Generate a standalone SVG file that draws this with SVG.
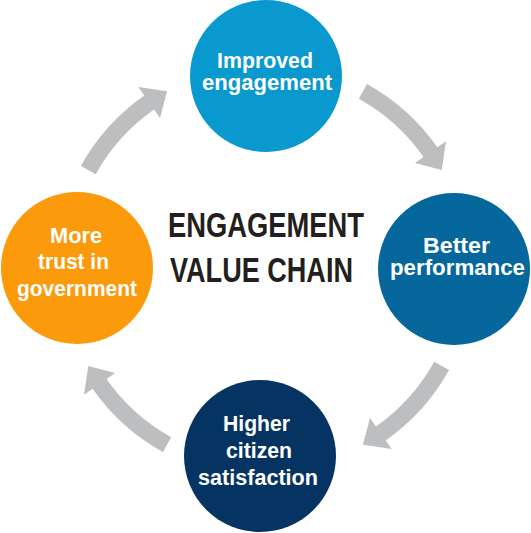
<svg xmlns="http://www.w3.org/2000/svg" xmlns:xlink="http://www.w3.org/1999/xlink" width="531" height="533" viewBox="0 0 531 533">
<style>
.lbl{font-family:"Liberation Sans","Arial",sans-serif;font-weight:bold;font-size:22px;fill:#ffffff;text-anchor:middle}
.title{font-family:"Liberation Sans","Arial",sans-serif;font-weight:bold;font-size:35px;fill:#231f20}
.arrow{fill:#bcbec0}
</style>
<defs>
<path id="arr" d="M80.9,166 A210.5,210.5 0 0 1 144.3,95.6 L138.2,87 L167.1,91.3 L160,118.1 L154,109.5 A193.5,193.5 0 0 0 95.8,174.2 Z"/>
</defs>
<rect width="531" height="533" fill="#ffffff"/>
<g id="connectors" class="arrow">
<use xlink:href="#arr"/>
<use xlink:href="#arr" transform="rotate(90 265 268)"/>
<use xlink:href="#arr" transform="rotate(180 265 268)"/>
<use xlink:href="#arr" transform="rotate(270 265 268)"/>
</g>
<g id="title">
<text class="title" x="168" y="237" textLength="196" lengthAdjust="spacingAndGlyphs">ENGAGEMENT</text>
<text class="title" x="170" y="282" textLength="183" lengthAdjust="spacingAndGlyphs">VALUE CHAIN</text>
</g>
<g id="node-top">
<circle cx="266" cy="76" r="76" fill="#0a99cf"/>
<text class="lbl" x="265" y="68" textLength="96" lengthAdjust="spacingAndGlyphs">Improved</text>
<text class="lbl" x="267" y="90" textLength="130" lengthAdjust="spacingAndGlyphs">engagement</text>
</g>
<g id="node-right">
<circle cx="454" cy="269" r="76" fill="#05679b"/>
<text class="lbl" x="456.5" y="253" textLength="67" lengthAdjust="spacingAndGlyphs">Better</text>
<text class="lbl" x="457.5" y="275" textLength="135" lengthAdjust="spacingAndGlyphs">performance</text>
</g>
<g id="node-bottom">
<circle cx="260" cy="456" r="76" fill="#053463"/>
<text class="lbl" x="256.5" y="431" textLength="67" lengthAdjust="spacingAndGlyphs">Higher</text>
<text class="lbl" x="259" y="458" textLength="66" lengthAdjust="spacingAndGlyphs">citizen</text>
<text class="lbl" x="258" y="485" textLength="120" lengthAdjust="spacingAndGlyphs">satisfaction</text>
</g>
<g id="node-left">
<circle cx="77" cy="268" r="76" fill="#fb9a0a"/>
<text class="lbl" x="76" y="243" textLength="52" lengthAdjust="spacingAndGlyphs">More</text>
<text class="lbl" x="73.5" y="269" textLength="71" lengthAdjust="spacingAndGlyphs">trust in</text>
<text class="lbl" x="77" y="296" textLength="120" lengthAdjust="spacingAndGlyphs">government</text>
</g>
</svg>
